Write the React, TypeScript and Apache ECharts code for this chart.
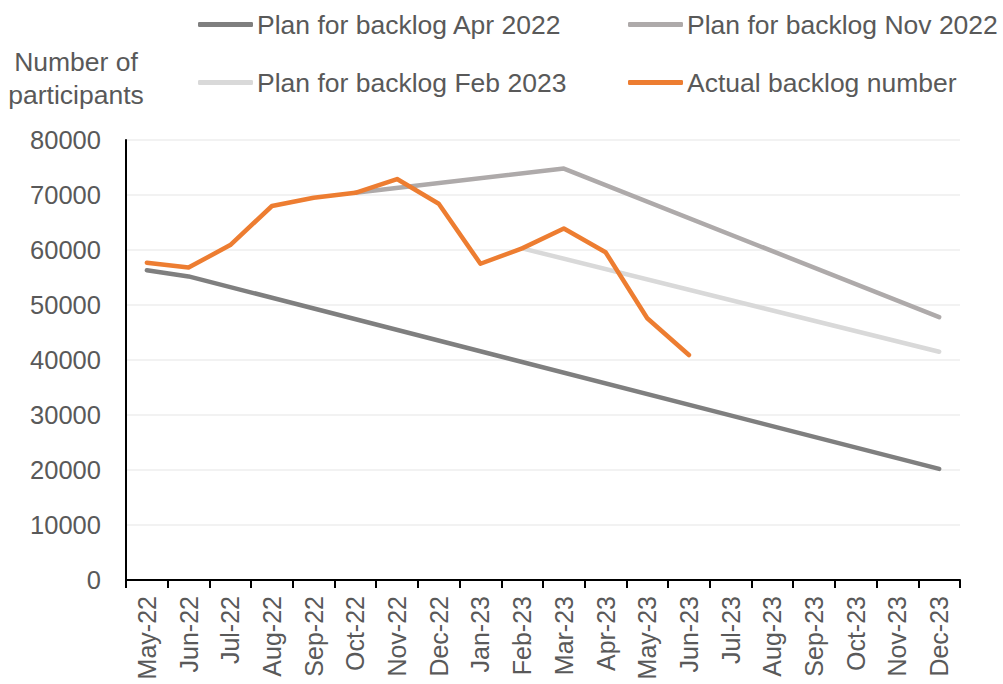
import React, { useEffect, useRef } from "react";
import * as echarts from "echarts";

const months = [
  "May-22", "Jun-22", "Jul-22", "Aug-22", "Sep-22", "Oct-22", "Nov-22", "Dec-22",
  "Jan-23", "Feb-23", "Mar-23", "Apr-23", "May-23", "Jun-23", "Jul-23", "Aug-23",
  "Sep-23", "Oct-23", "Nov-23", "Dec-23",
];

const planApr2022 = [56300, 55200, null, null, null, null, null, null, null, null, null, null, null, null, null, null, null, null, null, 20200];
const planNov2022 = [null, null, null, null, null, 70400, null, null, null, null, 74800, null, null, null, null, null, null, null, null, 47800];
const planFeb2023 = [null, null, null, null, null, null, null, null, null, 60300, null, null, null, null, null, null, null, null, null, 41500];
const actualBacklog = [57700, 56800, 60900, 68000, 69500, 70400, 72900, 68400, 57500, 60300, 63900, 59600, 47600, 40900, null, null, null, null, null, null];

const yTicks = { min: 0, max: 80000, interval: 10000 };

const TEXT = "#595959";
const FONT = "'Liberation Sans', Arial, sans-serif";

export default function App() {
  const ref = useRef<HTMLDivElement>(null);
  useEffect(() => {
    const chart = echarts.init(ref.current!, null, { renderer: "svg" });
    const mk = (name: string, data: (number | null)[], color: string, z: number) => ({
      name,
      type: "line",
      data,
      connectNulls: true,
      showSymbol: false,
      symbol: "none",
      z,
      lineStyle: { color, width: 4.5, cap: "round", join: "round" },
      itemStyle: { color },
    });
    const legendItem = (name: string, left: number, top: number) => ({
      show: true,
      left,
      top,
      padding: 0,
      icon: "roundRect",
      itemWidth: 55,
      itemHeight: 5,
      itemGap: 0,
      data: [name],
      textStyle: { color: TEXT, fontSize: 26.5, fontFamily: FONT, padding: [0, 0, 0, -1] },
    });
    chart.setOption({
      animation: false,
      textStyle: { fontFamily: FONT },
      grid: { left: 126, right: 43, top: 140, bottom: 104, containLabel: false },
      legend: [
        legendItem("Plan for backlog Apr 2022", 198, 11),
        legendItem("Plan for backlog Nov 2022", 628, 11),
        legendItem("Plan for backlog Feb 2023", 198, 69),
        legendItem("Actual backlog number", 628, 69),
      ],
      graphic: [
        {
          type: "text",
          x: 76,
          y: 78,
          style: {
            text: "Number of\nparticipants",
            fill: TEXT,
            fontSize: 26.5,
            fontFamily: FONT,
            align: "center",
            verticalAlign: "middle",
            lineHeight: 33,
          },
        },
      ],
      xAxis: {
        type: "category",
        data: months,
        boundaryGap: true,
        axisLine: { lineStyle: { color: "#000", width: 2 } },
        axisTick: { show: true, alignWithLabel: false, length: 8, lineStyle: { color: "#000", width: 2 } },
        axisLabel: { rotate: 90, color: TEXT, fontSize: 25, fontFamily: FONT, margin: 16, interval: 0 },
        splitLine: { show: false },
      },
      yAxis: {
        type: "value",
        min: yTicks.min,
        max: yTicks.max,
        interval: yTicks.interval,
        axisLine: { show: true, lineStyle: { color: "#000", width: 2 } },
        axisTick: { show: false },
        axisLabel: { color: TEXT, fontSize: 25.5, fontFamily: FONT, margin: 25, formatter: (v: number) => String(v) },
        splitLine: { show: true, lineStyle: { color: "#eeeeee", width: 1.5 } },
      },
      series: [
        mk("Plan for backlog Apr 2022", planApr2022, "#7f7f7f", 2),
        mk("Plan for backlog Nov 2022", planNov2022, "#aeaaaa", 2),
        mk("Plan for backlog Feb 2023", planFeb2023, "#d9d9d9", 2),
        mk("Actual backlog number", actualBacklog, "#ed7d31", 3),
      ],
    });
    return () => chart.dispose();
  }, []);
  return <div ref={ref} style={{ width: 1003, height: 684, position: "absolute", left: 0, top: 0 }} />;
}
